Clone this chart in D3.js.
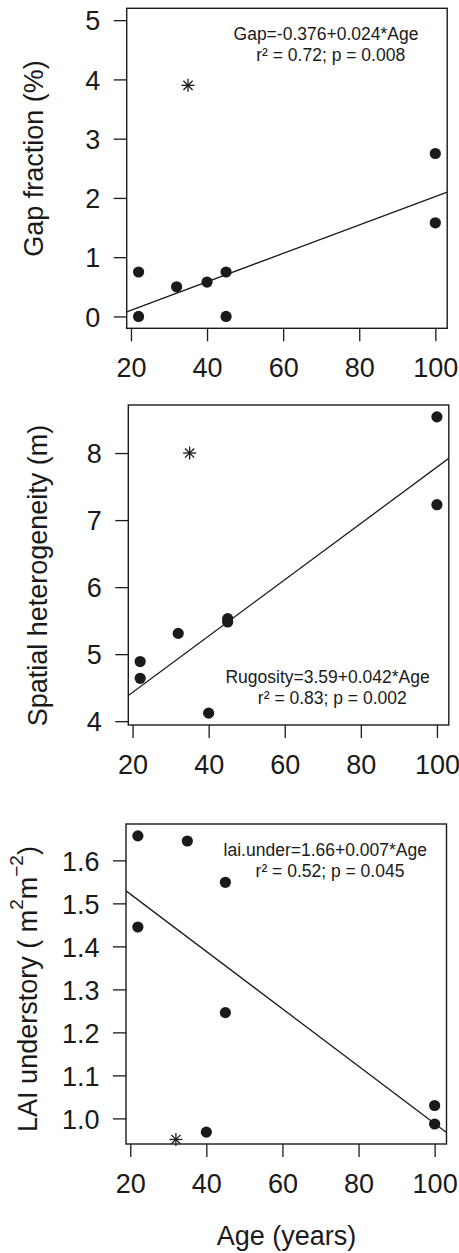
<!DOCTYPE html>
<html>
<head>
<meta charset="utf-8">
<script src="https://cdn.jsdelivr.net/npm/d3@7"></script>
<style>
  html, body { margin: 0; padding: 0; background: #fff; }
  svg { display: block; }
  text { font-family: "Liberation Sans", Arial, Helvetica, sans-serif; fill: #1a1a1a; }
</style>
</head>
<body>
<svg id="chart" width="459" height="1253"></svg>
<script>
// ---------- DATA ----------
const xTicks = [20, 40, 60, 80, 100];

const ageGap = [22, 22, 32, 40, 45, 45, 100, 100];
const gapFraction = [0.75, 0.0, 0.5, 0.58, 0.75, 0.0, 2.75, 1.58];
const gapOutlier = [35, 3.9];
const gapFit = [-0.376, 0.024];         // intercept, slope
const gapYTicks = [0, 1, 2, 3, 4, 5];
const gapYLim = [0, 5];
const gapLabels = ["Gap=-0.376+0.024*Age", "r\u00B2 = 0.72; p = 0.008"];

const ageRug = [22, 22, 32, 40, 45, 45, 100, 100];
const rugosity = [4.89, 4.64, 5.31, 4.12, 5.53, 5.48, 8.54, 7.23];
const rugOutlier = [35, 8.0];
const rugFit = [3.59, 0.042];
const rugYTicks = [4, 5, 6, 7, 8];
const rugLabels = ["Rugosity=3.59+0.042*Age", "r\u00B2 = 0.83; p = 0.002"];

const ageLai = [22, 22, 35, 40, 45, 45, 100, 100];
const laiUnder = [1.657, 1.445, 1.645, 0.968, 1.549, 1.246, 1.03, 0.987];
const laiOutlier = [32, 0.951];
const laiFit = [1.655, -0.00667];
const laiYTicks = [1.0, 1.1, 1.2, 1.3, 1.4, 1.5, 1.6];
const laiLabels = ["lai.under=1.66+0.007*Age", "r\u00B2 = 0.52; p = 0.045"];

// ---------- LAYOUT ----------
const ink = "#1a1a1a";
const boxW = 320.5, boxH = 320;
const panels = [
  { left: 126.7, top: 8.3, ages: ageGap, vals: gapFraction, outlier: gapOutlier, fit: gapFit,
    yTicks: gapYTicks, yLim: gapYLim, fmt: d3.format("d"), labels: gapLabels,
    title: [{t: "Gap fraction (%)"}], titleX: 42.5, titleY: 158.5 },
  { left: 128.3, top: 405, ages: ageRug, vals: rugosity, outlier: rugOutlier, fit: rugFit,
    yTicks: rugYTicks, yLim: null, fmt: d3.format("d"), labels: rugLabels,
    title: [{t: "Spatial heterogeneity (m)"}], titleX: 46.5, titleY: 575.5 },
  { left: 126, top: 824, ages: ageLai, vals: laiUnder, outlier: laiOutlier, fit: laiFit,
    yTicks: laiYTicks, yLim: null, fmt: d3.format(".1f"), labels: laiLabels,
    title: [{t: "LAI understory ( m"}, {t: "2", sup: true}, {t: "m"}, {t: "\u22122", sup: true}, {t: ")"}],
    titleX: 37, titleY: 989 }
];

function rExt(ext) {               // R-style 4% axis extension
  const d = (ext[1] - ext[0]) * 0.04;
  return [ext[0] - d, ext[1] + d];
}

const svg = d3.select("#chart");

panels.forEach((p, i) => {
  const x = d3.scaleLinear().domain(rExt(d3.extent(p.ages))).range([0, boxW]);
  const y = d3.scaleLinear().domain(rExt(p.yLim || d3.extent(p.vals))).range([boxH, 0]);

  const g = svg.append("g").attr("transform", `translate(${p.left},${p.top})`);

  // clip
  const cid = "clip" + i;
  g.append("clipPath").attr("id", cid).append("rect")
    .attr("width", boxW).attr("height", boxH);

  // x axis
  const xa = g.append("g").attr("transform", `translate(0,${boxH})`)
    .call(d3.axisBottom(x).tickValues(xTicks).tickSize(13).tickPadding(0).tickFormat(d3.format("d")));
  xa.select(".domain").remove();
  xa.selectAll(".tick line").attr("stroke", ink).attr("stroke-width", 1.3);
  xa.selectAll(".tick text").attr("y", 49).attr("dy", 0)
    .attr("font-size", 27).attr("fill", ink)
    .attr("font-family", '"Liberation Sans", Arial, sans-serif');

  // y axis
  const ya = g.append("g")
    .call(d3.axisLeft(y).tickValues(p.yTicks).tickSize(13).tickPadding(0).tickFormat(p.fmt));
  ya.select(".domain").remove();
  ya.selectAll(".tick line").attr("stroke", ink).attr("stroke-width", 1.3);
  ya.selectAll(".tick text").attr("x", -26.5).attr("dy", "0.36em")
    .attr("font-size", 27).attr("fill", ink)
    .attr("font-family", '"Liberation Sans", Arial, sans-serif');

  // regression line (abline, clipped)
  const xd = x.domain();
  g.append("line").attr("clip-path", `url(#${cid})`)
    .attr("x1", x(xd[0])).attr("y1", y(p.fit[0] + p.fit[1] * xd[0]))
    .attr("x2", x(xd[1])).attr("y2", y(p.fit[0] + p.fit[1] * xd[1]))
    .attr("stroke", ink).attr("stroke-width", 1.3);

  // points
  g.selectAll("circle.pt").data(p.ages.map((a, k) => [a, p.vals[k]]))
    .enter().append("circle").attr("class", "pt")
    .attr("cx", d => x(d[0])).attr("cy", d => y(d[1])).attr("r", 5.6)
    .attr("fill", ink);

  // outlier asterisk (pch 8)
  const ox = x(p.outlier[0]), oy = y(p.outlier[1]);
  const xc = 4.6, pc = xc * Math.SQRT2;
  const star = g.append("g").attr("stroke", ink).attr("stroke-width", 1.3)
    .attr("transform", `translate(${ox},${oy})`);
  star.append("line").attr("x1", -xc).attr("y1", -xc).attr("x2", xc).attr("y2", xc);
  star.append("line").attr("x1", -xc).attr("y1", xc).attr("x2", xc).attr("y2", -xc);
  star.append("line").attr("x1", -pc).attr("y1", 0).attr("x2", pc).attr("y2", 0);
  star.append("line").attr("x1", 0).attr("y1", -pc).attr("x2", 0).attr("y2", pc);

  // annotation
  const annY = i === 1 ? 278.3 : 32;
  g.append("text").attr("x", 199.3).attr("y", annY).attr("text-anchor", "middle")
    .attr("font-size", 17.5).text(p.labels[0]);
  g.append("text").attr("x", 204).attr("y", annY + 21).attr("text-anchor", "middle")
    .attr("font-size", 17.5).text(p.labels[1]);

  // box
  g.append("rect").attr("width", boxW).attr("height", boxH)
    .attr("fill", "none").attr("stroke", ink).attr("stroke-width", 1.4);

  // y title
  const tt = svg.append("text")
    .attr("transform", `translate(${p.titleX},${p.titleY}) rotate(-90)`)
    .attr("text-anchor", "middle").attr("font-size", 27);
  let raised = false;
  p.title.forEach(s => {
    const ts = tt.append("tspan").text(s.t);
    if (s.sup && !raised) { ts.attr("dy", -14).attr("font-size", 19); raised = true; }
    else if (s.sup && raised) { ts.attr("font-size", 19); }
    else if (!s.sup && raised) { ts.attr("dy", 14); raised = false; }
  });
});

// x title
svg.append("text").attr("x", 286.5).attr("y", 1245).attr("text-anchor", "middle")
  .attr("font-size", 27).text("Age (years)");
</script>
</body>
</html>
